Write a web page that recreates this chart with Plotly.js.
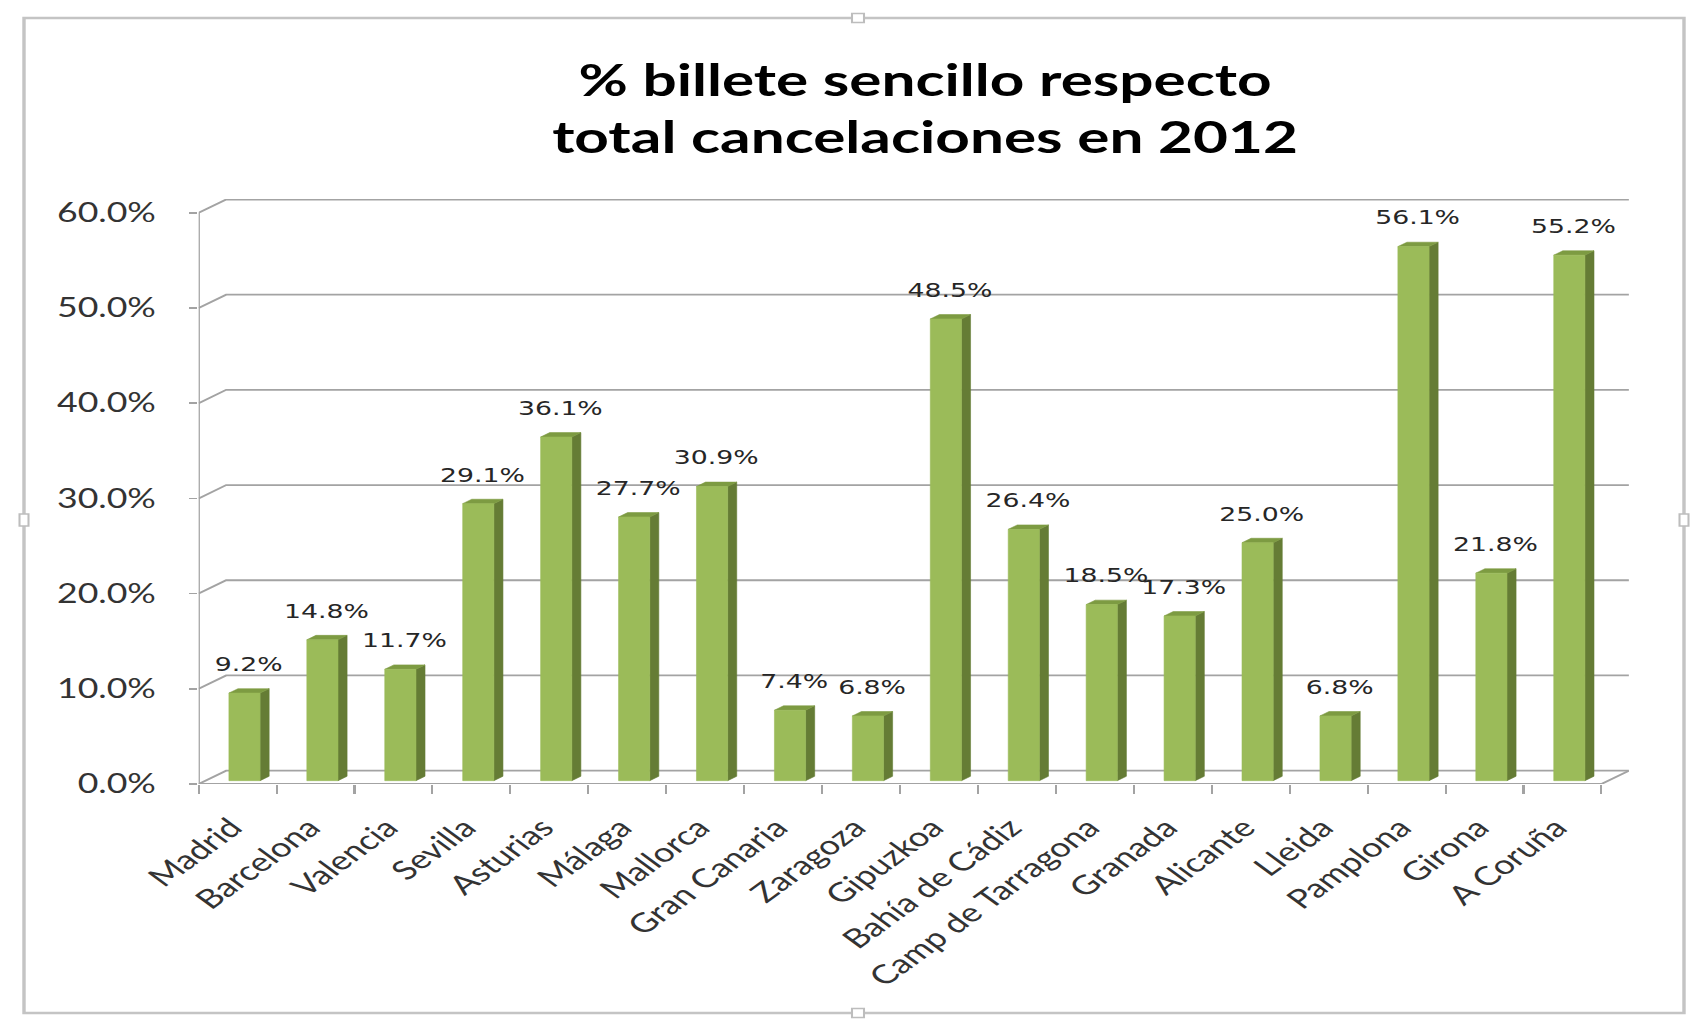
<!DOCTYPE html>
<html><head><meta charset="utf-8">
<script src="https://cdn.plot.ly/plotly-3.0.1.min.js"></script>
<style>
html,body{margin:0;padding:0;background:#fff;overflow:hidden;}
#wrap{width:1696px;height:1019px;overflow:hidden;position:relative;background:#fff;}
#chart{height:1019px;transform-origin:0 0;}
</style></head><body>
<div id="wrap"><div id="chart"></div></div>
<script>
// ---- data ----
const categories = ["Madrid","Barcelona","Valencia","Sevilla","Asturias","Málaga","Mallorca","Gran Canaria","Zaragoza","Gipuzkoa","Bahía de Cádiz","Camp de Tarragona","Granada","Alicante","Lleida","Pamplona","Girona","A Coruña"];
const values = [9.2,14.8,11.7,29.1,36.1,27.7,30.9,7.4,6.8,48.5,26.4,18.5,17.3,25.0,6.8,56.1,21.8,55.2];
const yTicks = [0,10,20,30,40,50,60];
const titleText = "% billete sencillo respecto<br>total cancelaciones en 2012";

// ---- geometry / style ----
const S = 1.37;                 // horizontal stretch of the reference picture
const H = 1019;
const W = Math.round(1696 / S);
const M = {l:145, r:W-145-1044, t:199, b:235};
const PW = W - M.l - M.r, PH = H - M.t - M.b;
const n = categories.length;
const DX = 0.353, DY = 1.40;    // 3D depth in axis units
const HALF = 0.2;               // half bar width
const F0 = 0.25, F1 = 0.58;     // depth fractions: front & back face of bars
const YMAX = 61.45;
const pxPerY = PH / YMAX;
const gridColor = '#a3a3a3';

document.getElementById('chart').style.width = W + 'px';
document.getElementById('chart').style.transform = 'scaleX(' + S + ')';

// gridlines / walls
const gx = [], gy = [];
yTicks.forEach(v => {
  gx.push(-0.5, -0.5 + DX, n - 0.5 + DX, null);
  gy.push(v, v + DY, v + DY, null);
});
gx.push(-0.5, -0.5, null);
gy.push(0, yTicks[yTicks.length-1], null);
gx.push(-0.5, n - 0.5, n - 0.5 + DX, null);
gy.push(0, 0, DY, null);

// bar faces
const fx = [], fy = [], sx = [], sy = [], tx = [], ty = [];
values.forEach((v, i) => {
  const xl = i - HALF, xr = i + HALF;
  fx.push(xl + F0*DX, xr + F0*DX, xr + F0*DX, xl + F0*DX, xl + F0*DX, null);
  fy.push(F0*DY, F0*DY, v + F0*DY, v + F0*DY, F0*DY, null);
  sx.push(xr + F0*DX, xr + F1*DX, xr + F1*DX, xr + F0*DX, xr + F0*DX, null);
  sy.push(F0*DY, F1*DY, v + F1*DY, v + F0*DY, F0*DY, null);
  tx.push(xl + F0*DX, xr + F0*DX, xr + F1*DX, xl + F1*DX, xl + F0*DX, null);
  ty.push(v + F0*DY, v + F0*DY, v + F1*DY, v + F1*DY, v + F0*DY, null);
});

const labelOffset = 27 / pxPerY;
const traces = [
  {x:gx, y:gy, type:'scatter', mode:'lines', line:{color:gridColor, width:1.8}, hoverinfo:'skip', connectgaps:false},
  {x:sx, y:sy, type:'scatter', mode:'lines', fill:'toself', fillcolor:'#657c35', line:{color:'#657c35', width:0.5}, hoverinfo:'skip'},
  {x:tx, y:ty, type:'scatter', mode:'lines', fill:'toself', fillcolor:'#7d9b42', line:{color:'#7d9b42', width:0.5}, hoverinfo:'skip'},
  {x:fx, y:fy, type:'scatter', mode:'lines', fill:'toself', fillcolor:'#9bbb59', line:{color:'#9bbb59', width:0.5}, hoverinfo:'skip'},
  {x:values.map((v,i)=>i + 0.4*DX), y:values.map(v=>v + F0*DY + labelOffset),
   text:values.map(v=>v.toFixed(1)+'%'), type:'scatter', mode:'text', textposition:'middle center',
   textfont:{family:'DejaVu Sans', size:19.5, color:'#262626'}, cliponaxis:false, hoverinfo:'skip'}
];

// paper-coordinate helpers (from full picture px)
const pxX = X => (X / S - M.l) / PW;
const pxY = Y => (H - M.b - Y) / PH;
const handle = (cx, cy, w, h) => ({type:'rect', xref:'paper', yref:'paper',
  x0:pxX(cx - w/2), x1:pxX(cx + w/2), y0:pxY(cy - h/2), y1:pxY(cy + h/2),
  line:{color:'#bdbdbd', width:1.5}, fillcolor:'#ffffff', layer:'above'});

const layout = {
  width:W, height:H, margin:M, paper_bgcolor:'#fff', plot_bgcolor:'rgba(0,0,0,0)',
  showlegend:false,
  title:{text:titleText, xref:'container', yref:'container', x:925/1696, xanchor:'center',
         y:1 - 96/H, yanchor:'top', font:{family:'Lato', size:44, weight:700, color:'#000'}},
  xaxis:{range:[-0.5, n - 0.5 + DX], tickmode:'array', tickvals:categories.map((c,i)=>i - 0.08),
         ticktext:categories, tickangle:-45, ticks:'', showgrid:false, zeroline:false, showline:false,
         tickfont:{family:'Lato', size:26.5, color:'#333333'}, ticklabelstandoff:22, fixedrange:true,
         minor:{tickmode:'array', tickvals:categories.map((c,i)=>i - 0.5).concat([n - 0.5]),
                ticks:'outside', ticklen:9, tickwidth:1.5, tickcolor:gridColor, showgrid:false}},
  yaxis:{range:[0, YMAX], tickmode:'array', tickvals:yTicks, ticktext:yTicks.map(v=>v.toFixed(1)+'%'),
         ticks:'outside', ticklen:6, tickwidth:1.8, tickcolor:gridColor, showgrid:false, zeroline:false,
         showline:false, tickfont:{family:'Lato', size:26, color:'#333333'}, ticklabelstandoff:19, fixedrange:true},
  shapes:[
    {type:'rect', xref:'paper', yref:'paper', x0:pxX(24), x1:pxX(1684), y0:pxY(1013), y1:pxY(18),
     line:{color:'#c4c4c4', width:2.5}, fillcolor:'rgba(0,0,0,0)', layer:'below'},
    handle(858, 18, 12, 9), handle(858, 1013, 12, 9), handle(24, 520, 9, 12), handle(1684, 520, 9, 12)
  ]
};
Plotly.newPlot('chart', traces, layout, {staticPlot:true, displayModeBar:false});
</script>
</body></html>
